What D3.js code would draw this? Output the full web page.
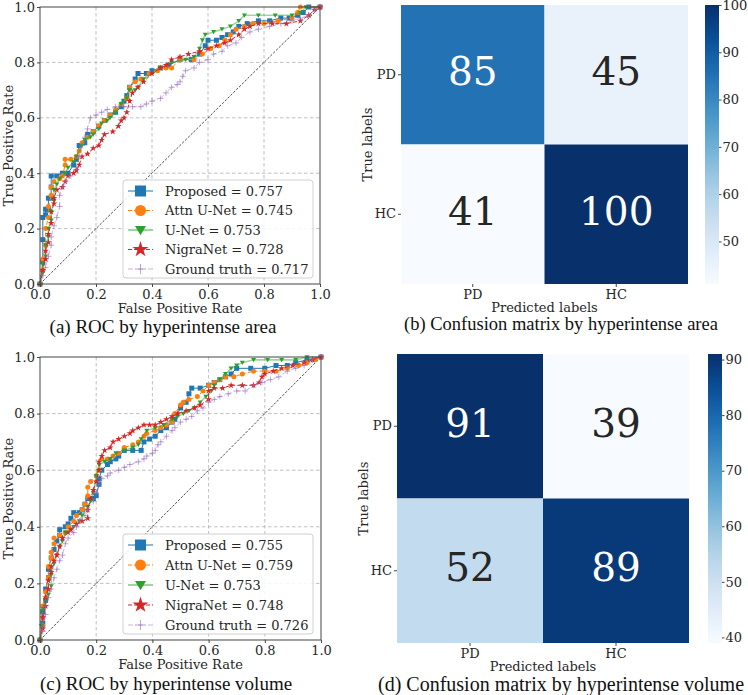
<!DOCTYPE html>
<html lang="en">
<head>
<meta charset="utf-8">
<title>ROC and confusion matrices</title>
<script src="https://d3js.org/d3.v7.min.js"></script>
<style>
  body { margin: 0; background: #fff; }
  .tick-label { font-family: "DejaVu Serif", serif; font-size: 13px; fill: #262626; }
  .axis-title { font-family: "DejaVu Serif", serif; font-size: 13px; fill: #262626; }
  .caption { font-family: "Liberation Serif", "Times New Roman", serif; font-size: 19px; fill: #111; }
  .legend-text { font-family: "DejaVu Serif", serif; font-size: 13px; fill: #262626; }
  .cell-text { font-family: "DejaVu Serif", serif; font-size: 39px; }
</style>
</head>
<body>
<div id="main"></div>
<script>
var width = 748, height = 695;

// ---- data ----
var seriesNames = ["Proposed", "Attn U-Net", "U-Net", "NigraNet", "Ground truth"];
var aucArea = [0.757, 0.745, 0.753, 0.728, 0.717];
var aucVolume = [0.755, 0.759, 0.753, 0.748, 0.726];
var rocTicks = [0, 0.2, 0.4, 0.6, 0.8, 1.0];

// ROC by hyperintense area: [FPR, TPR]
var areaProposed = [[0,0],[0.01,0.08],[0.01,0.16],[0.01,0.24],[0.02,0.25],[0.02,0.27],[0.03,0.27],[0.03,0.31],[0.04,0.31],[0.04,0.35],[0.04,0.39],[0.06,0.39],[0.08,0.40],[0.10,0.40],[0.12,0.43],[0.13,0.45],[0.14,0.50],[0.16,0.51],[0.17,0.54],[0.19,0.55],[0.21,0.57],[0.23,0.59],[0.25,0.61],[0.27,0.62],[0.29,0.64],[0.30,0.66],[0.31,0.68],[0.32,0.71],[0.34,0.74],[0.35,0.76],[0.38,0.76],[0.40,0.77],[0.43,0.78],[0.46,0.79],[0.50,0.81],[0.54,0.81],[0.57,0.83],[0.59,0.86],[0.60,0.88],[0.63,0.88],[0.65,0.89],[0.67,0.90],[0.69,0.91],[0.71,0.93],[0.74,0.94],[0.78,0.95],[0.82,0.95],[0.86,0.96],[0.89,0.96],[0.92,0.97],[0.94,0.98],[0.96,1.0],[1,1]];
var areaAttn = [[0,0],[0.01,0.05],[0.01,0.09],[0.02,0.14],[0.02,0.20],[0.03,0.24],[0.03,0.28],[0.04,0.32],[0.04,0.35],[0.05,0.37],[0.07,0.38],[0.08,0.39],[0.09,0.43],[0.09,0.45],[0.11,0.45],[0.13,0.46],[0.14,0.48],[0.15,0.51],[0.17,0.53],[0.19,0.55],[0.21,0.57],[0.23,0.59],[0.25,0.61],[0.27,0.63],[0.29,0.65],[0.31,0.67],[0.32,0.71],[0.34,0.73],[0.36,0.74],[0.39,0.76],[0.42,0.77],[0.45,0.78],[0.47,0.78],[0.50,0.81],[0.55,0.81],[0.58,0.83],[0.61,0.85],[0.64,0.86],[0.66,0.88],[0.68,0.90],[0.70,0.92],[0.73,0.93],[0.76,0.94],[0.80,0.94],[0.85,0.95],[0.90,0.96],[0.92,0.98],[0.93,1.0],[1,1]];
var areaUnet = [[0,0],[0.01,0.04],[0.01,0.07],[0.02,0.10],[0.02,0.14],[0.03,0.17],[0.03,0.20],[0.04,0.23],[0.04,0.26],[0.05,0.30],[0.05,0.34],[0.06,0.36],[0.07,0.38],[0.09,0.40],[0.10,0.42],[0.12,0.44],[0.13,0.46],[0.15,0.50],[0.16,0.52],[0.18,0.53],[0.19,0.54],[0.21,0.56],[0.22,0.58],[0.24,0.59],[0.25,0.60],[0.27,0.62],[0.29,0.65],[0.31,0.67],[0.32,0.70],[0.34,0.70],[0.35,0.71],[0.37,0.74],[0.40,0.76],[0.43,0.78],[0.47,0.80],[0.52,0.81],[0.55,0.82],[0.57,0.85],[0.58,0.88],[0.59,0.90],[0.62,0.91],[0.65,0.92],[0.68,0.93],[0.71,0.95],[0.73,0.97],[0.78,0.97],[0.84,0.97],[0.90,0.97],[0.93,0.98],[0.95,1.0],[1,1]];
var areaNigra = [[0,0],[0.01,0.05],[0.02,0.09],[0.02,0.12],[0.03,0.15],[0.03,0.18],[0.04,0.22],[0.04,0.26],[0.05,0.29],[0.05,0.31],[0.06,0.34],[0.08,0.35],[0.09,0.37],[0.10,0.39],[0.12,0.40],[0.13,0.41],[0.14,0.43],[0.15,0.46],[0.17,0.47],[0.19,0.49],[0.21,0.50],[0.22,0.52],[0.23,0.54],[0.26,0.55],[0.28,0.57],[0.29,0.59],[0.30,0.60],[0.31,0.62],[0.32,0.66],[0.33,0.69],[0.35,0.71],[0.37,0.73],[0.40,0.76],[0.43,0.78],[0.45,0.79],[0.47,0.81],[0.50,0.82],[0.53,0.83],[0.57,0.84],[0.60,0.85],[0.63,0.86],[0.66,0.87],[0.68,0.88],[0.71,0.90],[0.73,0.92],[0.75,0.93],[0.78,0.94],[0.83,0.94],[0.88,0.94],[0.93,0.95],[0.96,0.97],[0.98,0.99],[1,1]];
var areaGT = [[0,0],[0.01,0.03],[0.02,0.06],[0.03,0.10],[0.04,0.14],[0.04,0.17],[0.05,0.21],[0.06,0.24],[0.07,0.28],[0.07,0.32],[0.08,0.35],[0.09,0.37],[0.11,0.39],[0.13,0.42],[0.14,0.46],[0.15,0.50],[0.16,0.53],[0.17,0.56],[0.18,0.60],[0.20,0.61],[0.22,0.62],[0.24,0.63],[0.27,0.64],[0.30,0.64],[0.33,0.64],[0.36,0.64],[0.38,0.65],[0.40,0.66],[0.43,0.67],[0.45,0.69],[0.47,0.71],[0.49,0.72],[0.50,0.73],[0.51,0.75],[0.52,0.77],[0.55,0.78],[0.57,0.80],[0.60,0.81],[0.62,0.83],[0.65,0.84],[0.67,0.86],[0.70,0.87],[0.72,0.89],[0.75,0.91],[0.78,0.92],[0.82,0.93],[0.86,0.94],[0.90,0.95],[0.93,0.96],[0.96,0.97],[0.98,0.99],[1,1]];

// ROC by hyperintense volume: [FPR, TPR]
var volProposed = [[0,0],[0.01,0.06],[0.01,0.10],[0.02,0.14],[0.02,0.18],[0.03,0.22],[0.03,0.25],[0.04,0.29],[0.05,0.32],[0.06,0.35],[0.07,0.37],[0.07,0.39],[0.09,0.40],[0.10,0.41],[0.11,0.43],[0.12,0.45],[0.14,0.45],[0.15,0.46],[0.16,0.48],[0.17,0.50],[0.19,0.50],[0.20,0.51],[0.21,0.55],[0.21,0.57],[0.22,0.60],[0.24,0.62],[0.25,0.63],[0.27,0.64],[0.28,0.65],[0.30,0.67],[0.33,0.67],[0.36,0.67],[0.37,0.70],[0.39,0.71],[0.41,0.72],[0.43,0.74],[0.45,0.75],[0.47,0.77],[0.48,0.78],[0.50,0.82],[0.52,0.84],[0.53,0.87],[0.54,0.89],[0.57,0.89],[0.60,0.90],[0.62,0.91],[0.64,0.92],[0.66,0.93],[0.68,0.94],[0.70,0.96],[0.75,0.96],[0.80,0.96],[0.84,0.97],[0.88,0.97],[0.91,0.98],[0.95,0.99],[1,1]];
var volAttn = [[0,0],[0.01,0.05],[0.01,0.08],[0.01,0.12],[0.02,0.17],[0.03,0.22],[0.03,0.26],[0.04,0.29],[0.04,0.31],[0.05,0.34],[0.05,0.36],[0.07,0.37],[0.09,0.38],[0.10,0.40],[0.12,0.42],[0.13,0.44],[0.15,0.46],[0.16,0.48],[0.17,0.51],[0.17,0.54],[0.18,0.56],[0.20,0.58],[0.21,0.60],[0.22,0.64],[0.24,0.64],[0.26,0.65],[0.28,0.66],[0.30,0.68],[0.33,0.69],[0.35,0.70],[0.37,0.72],[0.38,0.73],[0.41,0.74],[0.43,0.75],[0.45,0.76],[0.47,0.77],[0.48,0.80],[0.50,0.83],[0.51,0.84],[0.53,0.85],[0.56,0.86],[0.58,0.88],[0.60,0.90],[0.62,0.91],[0.64,0.92],[0.66,0.93],[0.69,0.93],[0.72,0.94],[0.76,0.95],[0.80,0.95],[0.84,0.95],[0.88,0.96],[0.92,0.97],[0.95,0.98],[0.98,0.99],[1,1]];
var volUnet = [[0,0],[0.005,0.05],[0.01,0.09],[0.01,0.11],[0.02,0.14],[0.03,0.16],[0.04,0.19],[0.04,0.23],[0.05,0.27],[0.06,0.30],[0.07,0.33],[0.08,0.35],[0.09,0.38],[0.11,0.39],[0.12,0.40],[0.14,0.42],[0.15,0.44],[0.17,0.47],[0.18,0.49],[0.19,0.52],[0.20,0.58],[0.21,0.62],[0.23,0.63],[0.25,0.64],[0.27,0.66],[0.30,0.67],[0.33,0.68],[0.35,0.69],[0.36,0.71],[0.38,0.74],[0.41,0.75],[0.44,0.76],[0.47,0.78],[0.49,0.79],[0.51,0.80],[0.53,0.81],[0.55,0.82],[0.57,0.84],[0.59,0.86],[0.61,0.88],[0.62,0.90],[0.64,0.92],[0.66,0.94],[0.68,0.96],[0.70,0.97],[0.72,0.98],[0.76,0.99],[0.81,0.99],[0.86,0.99],[0.91,0.99],[0.95,1.0],[1,1]];
var volNigra = [[0,0],[0.01,0.04],[0.01,0.08],[0.02,0.12],[0.02,0.15],[0.03,0.18],[0.03,0.21],[0.04,0.24],[0.04,0.26],[0.05,0.28],[0.06,0.30],[0.07,0.33],[0.08,0.36],[0.10,0.38],[0.11,0.39],[0.13,0.41],[0.15,0.42],[0.17,0.43],[0.17,0.46],[0.18,0.50],[0.19,0.53],[0.20,0.56],[0.21,0.60],[0.21,0.63],[0.22,0.65],[0.23,0.67],[0.25,0.68],[0.26,0.70],[0.28,0.71],[0.30,0.72],[0.32,0.73],[0.33,0.74],[0.35,0.75],[0.37,0.76],[0.39,0.76],[0.41,0.76],[0.43,0.77],[0.45,0.78],[0.47,0.79],[0.49,0.80],[0.52,0.81],[0.55,0.82],[0.57,0.83],[0.60,0.85],[0.60,0.88],[0.62,0.89],[0.65,0.89],[0.68,0.90],[0.72,0.90],[0.76,0.90],[0.78,0.91],[0.79,0.93],[0.80,0.94],[0.83,0.95],[0.86,0.96],[0.90,0.97],[0.94,0.98],[0.97,0.99],[1,1]];
var volGT = [[0,0],[0.01,0.03],[0.01,0.05],[0.02,0.09],[0.02,0.12],[0.03,0.15],[0.04,0.18],[0.05,0.22],[0.06,0.25],[0.07,0.28],[0.08,0.30],[0.09,0.34],[0.10,0.36],[0.12,0.38],[0.13,0.40],[0.14,0.42],[0.16,0.44],[0.17,0.46],[0.19,0.49],[0.20,0.52],[0.21,0.55],[0.22,0.57],[0.24,0.58],[0.25,0.59],[0.28,0.60],[0.30,0.61],[0.32,0.62],[0.35,0.63],[0.37,0.64],[0.38,0.65],[0.40,0.66],[0.41,0.67],[0.42,0.69],[0.43,0.70],[0.45,0.72],[0.47,0.74],[0.48,0.75],[0.50,0.77],[0.52,0.78],[0.54,0.79],[0.56,0.81],[0.58,0.82],[0.60,0.84],[0.62,0.85],[0.64,0.86],[0.67,0.87],[0.70,0.88],[0.73,0.88],[0.76,0.90],[0.79,0.91],[0.82,0.92],[0.85,0.93],[0.88,0.95],[0.91,0.96],[0.94,0.97],[0.97,0.99],[1,1]];

// confusion matrices (rows: true, cols: predicted)
var cmClasses = ["PD", "HC"];
var cmArea = [[85, 45], [41, 100]];
var cmVolume = [[91, 39], [52, 89]];
var cbTicksArea = [50, 60, 70, 80, 90, 100];
var cbTicksVolume = [40, 50, 60, 70, 80, 90];

var captions = ["(a) ROC by hyperintense area", "(b) Confusion matrix by hyperintense area",
                "(c) ROC by hyperintense volume", "(d) Confusion matrix by hyperintense volume"];

// ---- styles ----
var colors = ["#1f77b4", "#ff7f0e", "#2ca02c", "#d62728", "#9467bd"];
var dashes = [null, "4,2", null, "4,2", "5,2,1,2"];
var lineOpacity = [1, 1, 0.45, 1, 0.5];
var markerOpacity = [1, 1, 1, 1, 0.6];

var svg = d3.select("#main").append("svg")
  .attr("width", width).attr("height", height);

function markerPath(i, size) {
  var r = size / 2;
  if (i === 0) return d3.symbol(d3.symbolSquare, size * size)();
  if (i === 1) return d3.symbol(d3.symbolCircle, Math.PI * r * r)();
  if (i === 2) return "M" + (-r) + "," + (-r * 0.75) + "L" + r + "," + (-r * 0.75) + "L0," + (r * 0.95) + "Z";
  if (i === 3) return d3.symbol(d3.symbolStar, size * size * 0.55)();
  return "M" + (-r) + ",0H" + r + "M0," + (-r) + "V" + r;
}

function drawMarker(sel, i, size) {
  sel.attr("d", markerPath(i, size));
  if (i === 4) {
    sel.attr("fill", "none").attr("stroke", colors[i]).attr("stroke-width", 1).attr("opacity", markerOpacity[i]);
  } else {
    sel.attr("fill", colors[i]).attr("stroke", "none").attr("opacity", markerOpacity[i]);
  }
}

function styleAxis(a) {
  a.select(".domain").remove();
  a.selectAll("line").attr("stroke", "#444");
  a.selectAll("text").attr("class", "tick-label").attr("font-size", null).attr("font-family", null).attr("fill", null);
}

function drawRoc(box, series, aucs, legendBox, caption) {
  var g = svg.append("g");
  var x = d3.scaleLinear().domain([0, 1]).range([box.left, box.right]);
  var y = d3.scaleLinear().domain([0, 1]).range([box.bottom, box.top]);

  // grid
  g.append("g").selectAll("line").data(rocTicks.slice(1, -1)).enter().append("line")
    .attr("x1", function(d) { return x(d); }).attr("x2", function(d) { return x(d); })
    .attr("y1", box.top).attr("y2", box.bottom)
    .attr("stroke", "#b0b0b0").attr("stroke-width", 0.8).attr("stroke-dasharray", "3.5,2.5");
  g.append("g").selectAll("line").data(rocTicks.slice(1, -1)).enter().append("line")
    .attr("y1", function(d) { return y(d); }).attr("y2", function(d) { return y(d); })
    .attr("x1", box.left).attr("x2", box.right)
    .attr("stroke", "#b0b0b0").attr("stroke-width", 0.8).attr("stroke-dasharray", "3.5,2.5");

  // chance line
  g.append("line")
    .attr("x1", x(0)).attr("y1", y(0)).attr("x2", x(1)).attr("y2", y(1))
    .attr("stroke", "#000").attr("stroke-width", 0.7).attr("stroke-dasharray", "2.5,1.5");

  var line = d3.line().x(function(d) { return x(d[0]); }).y(function(d) { return y(d[1]); });

  series.forEach(function(pts, i) {
    g.append("path").datum(pts)
      .attr("d", line).attr("fill", "none")
      .attr("stroke", colors[i]).attr("stroke-width", i === 2 ? 1.6 : 1)
      .attr("stroke-opacity", lineOpacity[i])
      .attr("stroke-dasharray", dashes[i]);
    g.append("g").selectAll("path").data(pts).enter().append("path")
      .attr("transform", function(d) { return "translate(" + x(d[0]) + "," + y(d[1]) + ")"; })
      .each(function() { drawMarker(d3.select(this), i, i === 4 ? 6 : 5); });
  });

  // axes
  var xa = g.append("g").attr("transform", "translate(0," + box.bottom + ")")
    .call(d3.axisBottom(x).tickValues(rocTicks).tickSize(3).tickPadding(3).tickFormat(d3.format(".1f")));
  var ya = g.append("g").attr("transform", "translate(" + box.left + ",0)")
    .call(d3.axisLeft(y).tickValues(rocTicks).tickSize(3).tickPadding(2).tickFormat(d3.format(".1f")));
  styleAxis(xa);
  styleAxis(ya);
  g.append("rect")
    .attr("x", box.left).attr("y", box.top)
    .attr("width", box.right - box.left).attr("height", box.bottom - box.top)
    .attr("fill", "none").attr("stroke", "#444").attr("stroke-width", 1);

  g.append("text").attr("class", "axis-title").attr("text-anchor", "middle")
    .attr("x", (box.left + box.right) / 2).attr("y", box.bottom + 29)
    .text("False Positive Rate");
  g.append("text").attr("class", "axis-title").attr("text-anchor", "middle")
    .attr("transform", "translate(" + 13 + "," + ((box.top + box.bottom) / 2) + ") rotate(-90)")
    .text("True Positive Rate");

  // legend
  var lg = g.append("g");
  lg.append("rect")
    .attr("x", legendBox.x).attr("y", legendBox.y).attr("width", legendBox.w).attr("height", legendBox.h)
    .attr("rx", 3).attr("fill", "#fff").attr("fill-opacity", 0.85)
    .attr("stroke", "#d0d0d0").attr("stroke-width", 1);
  var rowH = (legendBox.h - 20) / 4;
  seriesNames.forEach(function(name, i) {
    var cy = legendBox.y + 11 + i * rowH;
    lg.append("line")
      .attr("x1", legendBox.x + 5).attr("x2", legendBox.x + 30).attr("y1", cy).attr("y2", cy)
      .attr("stroke", colors[i]).attr("stroke-width", i === 2 ? 2 : 1)
      .attr("stroke-opacity", lineOpacity[i]).attr("stroke-dasharray", dashes[i]);
    lg.append("path").attr("transform", "translate(" + (legendBox.x + 17.5) + "," + cy + ")")
      .call(function(s) { drawMarker(s, i, i === 3 ? 12 : (i === 4 ? 10 : 11)); });
    lg.append("text").attr("class", "legend-text")
      .attr("x", legendBox.x + 42).attr("y", cy + 4.5)
      .text(name + " = " + aucs[i].toFixed(3));
  });

  svg.append("text").attr("class", "caption").attr("text-anchor", "middle")
    .style("font-size", caption.size + "px")
    .attr("x", caption.x).attr("y", caption.y).text(caption.text);
}

function luminance(c) {
  var rgb = d3.rgb(c);
  var lin = [rgb.r, rgb.g, rgb.b].map(function(v) {
    v = v / 255;
    return v <= 0.03928 ? v / 12.92 : Math.pow((v + 0.055) / 1.055, 2.4);
  });
  return 0.2126 * lin[0] + 0.7152 * lin[1] + 0.0722 * lin[2];
}

var gradId = 0;
function drawCm(box, cbar, matrix, cbTicks, caption) {
  var g = svg.append("g");
  var flat = matrix[0].concat(matrix[1]);
  var vmin = d3.min(flat), vmax = d3.max(flat);
  var color = d3.scaleSequential(d3.interpolateBlues).domain([vmin, vmax]);

  var x = d3.scaleBand().domain(cmClasses).range([box.left, box.right]);
  var y = d3.scaleBand().domain(cmClasses).range([box.top, box.bottom]);

  var cells = [];
  matrix.forEach(function(row, r) {
    row.forEach(function(v, c) { cells.push({ t: cmClasses[r], p: cmClasses[c], v: v }); });
  });

  g.selectAll("rect.cell").data(cells).enter().append("rect")
    .attr("class", "cell")
    .attr("x", function(d) { return x(d.p); }).attr("y", function(d) { return y(d.t); })
    .attr("width", x.bandwidth()).attr("height", y.bandwidth())
    .attr("fill", function(d) { return color(d.v); });

  g.selectAll("text.cell-text").data(cells).enter().append("text")
    .attr("class", "cell-text").attr("text-anchor", "middle")
    .attr("x", function(d) { return x(d.p) + x.bandwidth() / 2; })
    .attr("y", function(d) { return y(d.t) + y.bandwidth() / 2 + 10.5; })
    .attr("fill", function(d) { return luminance(color(d.v)) > 0.408 ? "#262626" : "#ffffff"; })
    .text(function(d) { return d.v; });

  var xa = g.append("g").attr("transform", "translate(0," + box.bottom + ")")
    .call(d3.axisBottom(x).tickSize(3).tickPadding(3));
  var ya = g.append("g").attr("transform", "translate(" + box.left + ",0)")
    .call(d3.axisLeft(y).tickSize(3).tickPadding(2));
  styleAxis(xa);
  styleAxis(ya);

  g.append("text").attr("class", "axis-title").attr("text-anchor", "middle")
    .attr("x", (box.left + box.right) / 2).attr("y", box.bottom + 28)
    .text("Predicted labels");
  g.append("text").attr("class", "axis-title").attr("text-anchor", "middle")
    .attr("transform", "translate(" + (box.left - 29) + "," + ((box.top + box.bottom) / 2) + ") rotate(-90)")
    .text("True labels");

  // colorbar
  var id = "cb" + (gradId++);
  var cy = d3.scaleLinear().domain([vmin, vmax]).range([cbar.bottom, cbar.top]);
  var grad = svg.append("defs").append("linearGradient").attr("id", id)
    .attr("x1", 0).attr("y1", 1).attr("x2", 0).attr("y2", 0);
  d3.range(0, 1.0001, 0.05).forEach(function(t) {
    grad.append("stop").attr("offset", t).attr("stop-color", d3.interpolateBlues(t));
  });
  g.append("rect")
    .attr("x", cbar.left).attr("y", cbar.top)
    .attr("width", cbar.right - cbar.left).attr("height", cbar.bottom - cbar.top)
    .attr("fill", "url(#" + id + ")");
  var ca = g.append("g").attr("transform", "translate(" + cbar.right + ",0)")
    .call(d3.axisRight(cy).tickValues(cbTicks).tickSize(2.5).tickPadding(1));
  styleAxis(ca);

  svg.append("text").attr("class", "caption").attr("text-anchor", "middle")
    .style("font-size", caption.size + "px")
    .attr("x", caption.x).attr("y", caption.y).text(caption.text);
}

drawRoc({ left: 40, right: 320, top: 7, bottom: 284 },
  [areaProposed, areaAttn, areaUnet, areaNigra, areaGT], aucArea,
  { x: 123, y: 180, w: 190, h: 98 },
  { x: 163, y: 332.5, size: 19, text: captions[0] });

drawRoc({ left: 40, right: 321, top: 357, bottom: 640 },
  [volProposed, volAttn, volUnet, volNigra, volGT], aucVolume,
  { x: 123, y: 534, w: 190, h: 100 },
  { x: 166, y: 690, size: 19, text: captions[2] });

drawCm({ left: 401, right: 688, top: 5, bottom: 284 },
  { left: 705, right: 719, top: 5, bottom: 284 },
  cmArea, cbTicksArea,
  { x: 561, y: 330, size: 18.5, text: captions[1] });

drawCm({ left: 397, right: 689, top: 354, bottom: 643 },
  { left: 708, right: 722, top: 354, bottom: 643 },
  cmVolume, cbTicksVolume,
  { x: 561, y: 691, size: 20, text: captions[3] });
</script>
</body>
</html>
